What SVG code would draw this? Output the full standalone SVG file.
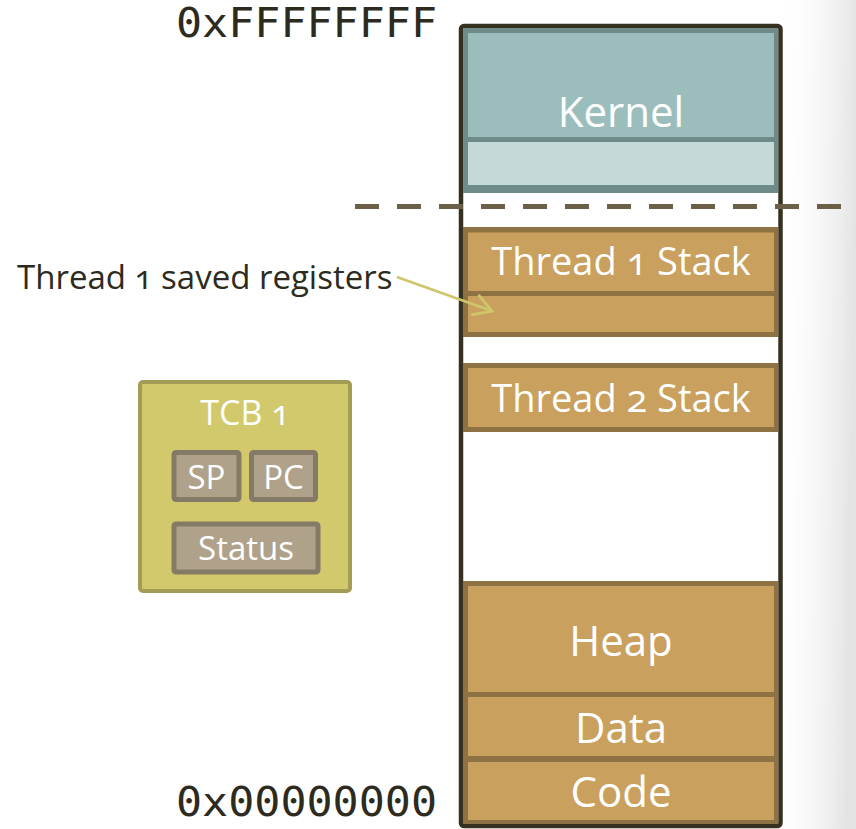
<svg xmlns="http://www.w3.org/2000/svg" width="856" height="829" viewBox="0 0 856 829">
  <defs>
    <linearGradient id="edgeShade" x1="0" y1="0" x2="1" y2="0.15">
      <stop offset="0" stop-color="#ffffff" stop-opacity="0"/>
      <stop offset="1" stop-color="#e4e4e4"/>
    </linearGradient>
    <marker id="chevron" markerUnits="userSpaceOnUse" markerWidth="30" markerHeight="30" viewBox="-20 -14 24 28" refX="0" refY="0" orient="auto">
      <path d="M-17,-10 L0,0 L-17,10" fill="none" stroke="#cdc66a" stroke-width="2.6" stroke-linejoin="miter"/>
    </marker>
    <style>
      .seg { fill: #c9a05d; }
      .segEdge { fill: #8f7243; }
      .lbl { font-family: "Open Sans", "Noto Sans", "Liberation Sans", sans-serif; fill: #ffffff; text-anchor: middle; font-variant-numeric: oldstyle-nums; }
      .dark { font-family: "Open Sans", "Noto Sans", "Liberation Sans", sans-serif; fill: #2d2a20; font-variant-numeric: oldstyle-nums; }
      .addr { font-family: "DejaVu Sans Mono", "Liberation Mono", monospace; fill: #2d2a20; font-size: 40px; }
      .reg { fill: #b0a28a; stroke: #857a66; stroke-width: 5; }
    </style>
  </defs>

  <!-- page background with soft shading at the right edge -->
  <rect x="0" y="0" width="856" height="829" fill="#ffffff"/>
  <rect x="778" y="0" width="78" height="829" fill="url(#edgeShade)"/>

  <!-- address labels -->
  <g id="addr-top">
    <text class="addr" x="176" y="37" textLength="261" lengthAdjust="spacingAndGlyphs">0xFFFFFFFF</text>
  </g>
  <g id="addr-bottom">
    <text class="addr" x="176" y="816" textLength="261" lengthAdjust="spacingAndGlyphs">0x00000000</text>
  </g>

  <!-- address space column -->
  <g id="address-space">
    <rect x="461" y="26" width="319.5" height="800" rx="3" fill="#ffffff" stroke="#36301f" stroke-width="4.5"/>
  </g>

  <g id="kernel">
    <rect x="463" y="28" width="315" height="165" fill="#6e8b89"/>
    <rect x="468" y="33" width="306" height="104" fill="#9bbebd"/>
    <rect x="468" y="142" width="306" height="43" fill="#c4d9d8"/>
    <text class="lbl" x="621" y="127" font-size="42">Kernel</text>
  </g>

  <g id="thread1-stack">
    <rect class="segEdge" x="463" y="227" width="315" height="110"/>
    <rect class="seg" x="468" y="232.5" width="306" height="58.5"/>
    <rect class="seg" x="468" y="296" width="306" height="36"/>
    <text class="lbl" x="621" y="275" font-size="38">Thread 1 Stack</text>
  </g>

  <g id="thread2-stack">
    <rect class="segEdge" x="463" y="363" width="315" height="69"/>
    <rect class="seg" x="468" y="368" width="306" height="59"/>
    <text class="lbl" x="621" y="411.5" font-size="38">Thread 2 Stack</text>
  </g>

  <g id="heap">
    <rect class="segEdge" x="463" y="581" width="315" height="116"/>
    <rect class="seg" x="468" y="586" width="306" height="106"/>
    <text class="lbl" x="621" y="656" font-size="42">Heap</text>
  </g>

  <g id="data">
    <rect class="segEdge" x="463" y="692" width="315" height="70"/>
    <rect class="seg" x="468" y="697" width="306" height="59"/>
    <text class="lbl" x="621" y="742.5" font-size="42">Data</text>
  </g>

  <g id="code">
    <rect class="segEdge" x="463" y="756" width="315" height="68"/>
    <rect class="seg" x="468" y="762" width="306" height="58"/>
    <text class="lbl" x="621" y="806.5" font-size="42">Code</text>
  </g>

  <!-- user / kernel boundary -->
  <g id="boundary">
    <line x1="355" y1="206.5" x2="856" y2="206.5" stroke="#6b5f47" stroke-width="5" stroke-dasharray="24 18"/>
  </g>

  <!-- thread control block -->
  <g id="tcb1">
    <rect x="140" y="382" width="210" height="209" rx="3" fill="#d1c96c" stroke="#a29c55" stroke-width="4"/>
    <text class="lbl" x="245" y="425" font-size="34">TCB 1</text>
    <g id="tcb1-sp">
      <rect class="reg" x="174" y="452.5" width="65" height="47" rx="2"/>
      <text class="lbl" x="206.5" y="488.5" font-size="33">SP</text>
    </g>
    <g id="tcb1-pc">
      <rect class="reg" x="251.5" y="452.5" width="64" height="47" rx="2"/>
      <text class="lbl" x="283.5" y="488.5" font-size="33">PC</text>
    </g>
    <g id="tcb1-status">
      <rect class="reg" x="174" y="524" width="144" height="48" rx="2"/>
      <text class="lbl" x="246" y="559.5" font-size="33">Status</text>
    </g>
  </g>

  <g id="saved-regs-label">
    <text class="dark" x="17" y="289" font-size="33">Thread 1 saved registers</text>
  </g>

  <g id="connectors">
    <line x1="397" y1="277" x2="492" y2="311" stroke="#cdc66a" stroke-width="2.6" marker-end="url(#chevron)"/>
  </g>
</svg>
